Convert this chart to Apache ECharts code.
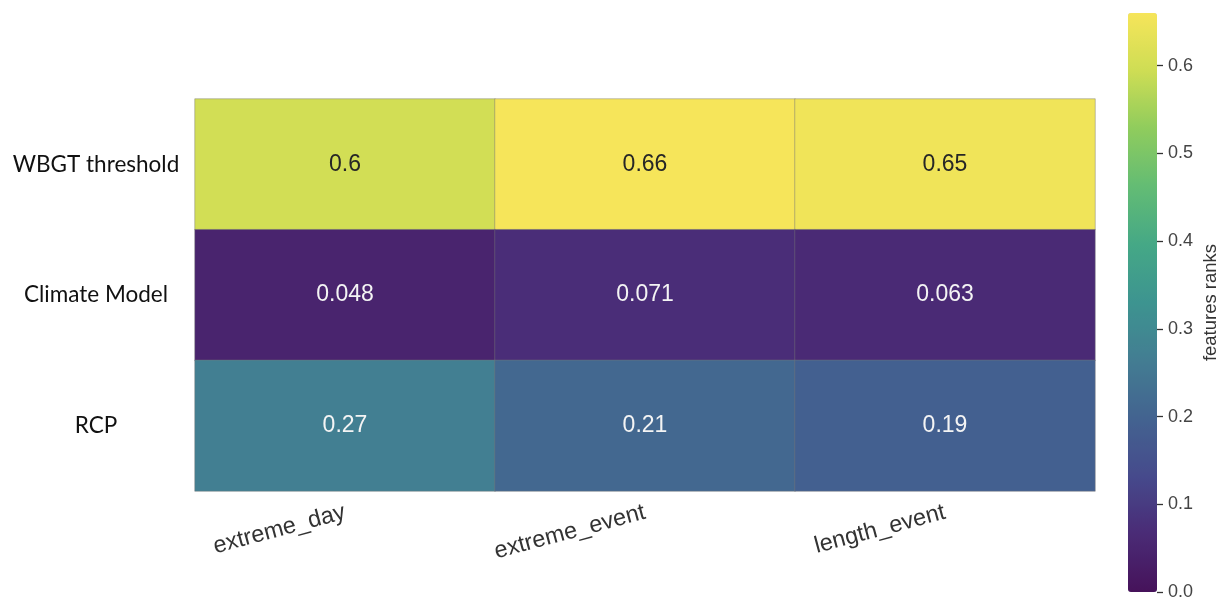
<!DOCTYPE html>
<html>
<head>
<meta charset="utf-8">
<title>features ranks</title>
<script src="https://cdn.jsdelivr.net/npm/echarts@6/dist/echarts.min.js"></script>
<style>
  html, body { margin: 0; padding: 0; background: #ffffff; }
  #chart { width: 1225px; height: 602px; }
</style>
</head>
<body>
<div id="chart"></div>
<script>
// Feature importance for each heat-extreme indicator
const indicators = ['extreme_day', 'extreme_event', 'length_event'];
const features = ['WBGT threshold', 'Climate Model', 'RCP'];

const wbgtThreshold = [0.6, 0.66, 0.65];
const climateModel = [0.048, 0.071, 0.063];
const rcp = [0.27, 0.21, 0.19];

const colorbarTicks = [0.0, 0.1, 0.2, 0.3, 0.4, 0.5, 0.6];
const scaleMin = 0;
const scaleMax = 0.66;

// viridis, slightly softened
const palette = [
  '#46125a', '#4a2b76', '#464a8c', '#436390', '#437d92',
  '#3d9490', '#45a886', '#63bc74', '#8fcc5d', '#cedd54', '#f6e55a'
];

const rows = [wbgtThreshold, climateModel, rcp];
const cells = [];
rows.forEach((vals, r) => {
  vals.forEach((v, c) => {
    cells.push({
      value: [c, r, v],
      label: { color: v > 0.4 ? '#262626' : '#f4f4f4' }
    });
  });
});

const chart = echarts.init(document.getElementById('chart'));
chart.setOption({
  backgroundColor: '#ffffff',
  animation: false,
  grid: [
    { left: 195, right: 130, top: 99, bottom: 111 },
    { left: 1128, width: 29, top: 13, height: 579 }
  ],
  xAxis: [
    {
      type: 'category',
      gridIndex: 0,
      data: indicators,
      axisLine: { show: false },
      axisTick: { show: false },
      splitLine: { show: false },
      axisLabel: {
        rotate: 15,
        margin: 21,
        fontFamily: 'Liberation Sans, Arial, sans-serif',
        fontSize: 23.5,
        color: '#333333'
      }
    },
    { type: 'value', gridIndex: 1, show: false, min: 0, max: 1 }
  ],
  yAxis: [
    {
      type: 'category',
      gridIndex: 0,
      data: features,
      inverse: true,
      axisLine: { show: false },
      axisTick: { show: false },
      splitLine: { show: false },
      axisLabel: {
        align: 'center',
        margin: 99,
        padding: [0, 0, 8, 0],
        fontFamily: 'Lato, Open Sans, sans-serif',
        fontSize: 22.5,
        color: '#111111'
      }
    },
    {
      type: 'value',
      gridIndex: 1,
      position: 'right',
      min: scaleMin,
      max: scaleMax,
      interval: 0.1,
      z: 10,
      axisLine: { show: true, onZero: false, lineStyle: { color: 'rgba(0,0,0,0)' } },
      splitLine: { show: false },
      axisTick: { show: true, inside: false, length: 6, lineStyle: { color: '#333333', width: 1.3 } },
      axisLabel: {
        showMaxLabel: false,
        margin: 11,
        fontFamily: 'Liberation Sans, Arial, sans-serif',
        fontSize: 18,
        color: '#444444',
        formatter: v => colorbarTicks.some(t => Math.abs(t - v) < 1e-9) ? v.toFixed(1) : ''
      },
      name: 'features ranks',
      nameLocation: 'middle',
      nameRotate: 90,
      nameGap: 44,
      nameTextStyle: {
        fontFamily: 'Liberation Sans, Arial, sans-serif',
        fontSize: 18.5,
        color: '#333333'
      }
    }
  ],
  visualMap: {
    type: 'continuous',
    seriesIndex: 0,
    min: scaleMin,
    max: scaleMax,
    orient: 'vertical',
    left: 1128,
    top: 13,
    padding: 0,
    itemWidth: 29,
    itemHeight: 579,
    calculable: false,
    hoverLink: false,
    text: null,
    showLabel: false,
    z: 1,
    inRange: { color: palette }
  },
  series: [
    {
      type: 'heatmap',
      xAxisIndex: 0,
      yAxisIndex: 0,
      data: cells,
      itemStyle: { borderColor: 'rgba(120,120,120,0.45)', borderWidth: 1 },
      label: {
        show: true,
        fontFamily: 'Liberation Sans, Arial, sans-serif',
        fontSize: 23,
        formatter: p => String(p.value[2])
      },
      emphasis: { disabled: true }
    },
    {
      // empty series that keeps the colorbar axis active
      type: 'line',
      xAxisIndex: 1,
      yAxisIndex: 1,
      data: [],
      silent: true
    }
  ]
});
</script>
</body>
</html>
